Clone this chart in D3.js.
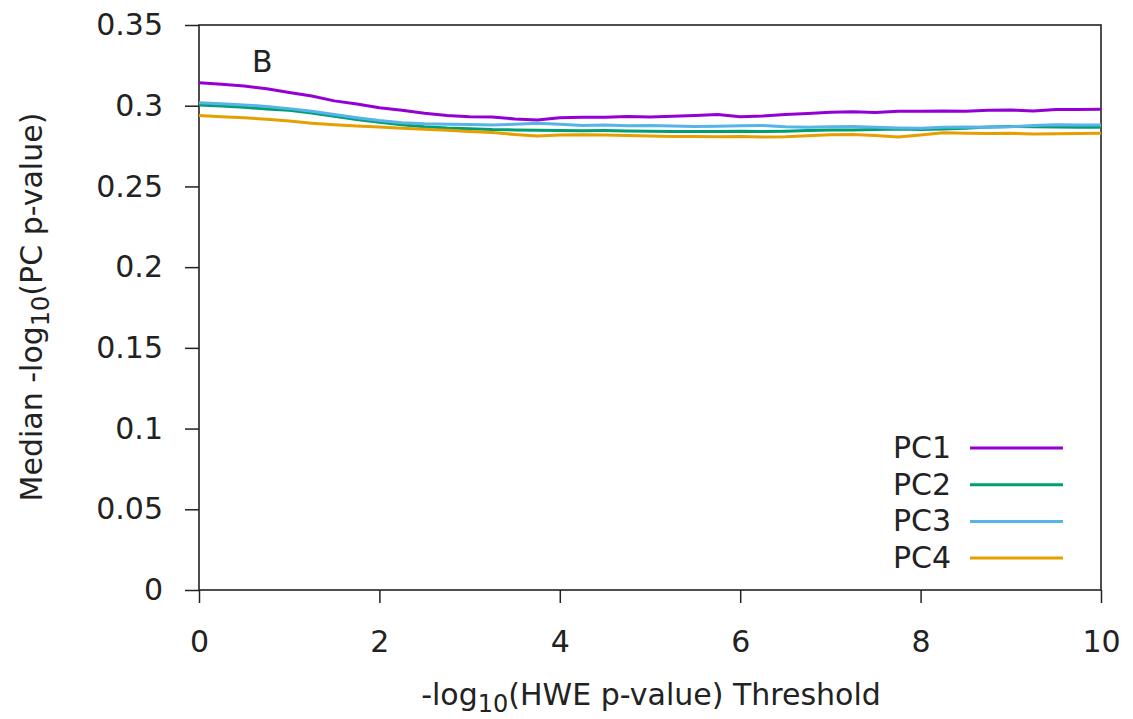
<!DOCTYPE html>
<html>
<head>
<meta charset="utf-8">
<script src="https://cdn.jsdelivr.net/npm/d3@7"></script>
<style>
  body { margin: 0; background: #fff; }
  svg text { font-family: "DejaVu Sans", sans-serif; fill: #222; }
</style>
</head>
<body>
<div id="chart"></div>
<script>
// -log10(HWE p-value) thresholds
const thresholds = d3.range(0, 10.001, 0.25);

const pc1 = [0.3143, 0.3133, 0.3122, 0.3105, 0.3082, 0.3060, 0.3030, 0.3010, 0.2988, 0.2972,
             0.2953, 0.2940, 0.2932, 0.2930, 0.2918, 0.2912, 0.2925, 0.2929, 0.2928, 0.2933,
             0.2930, 0.2935, 0.2940, 0.2946, 0.2932, 0.2936, 0.2946, 0.2952, 0.2960, 0.2962,
             0.2958, 0.2965, 0.2966, 0.2968, 0.2966, 0.2972, 0.2974, 0.2968, 0.2976, 0.2976, 0.2978];
const pc2 = [0.3005, 0.2998, 0.2990, 0.2980, 0.2972, 0.2955, 0.2935, 0.2915, 0.2898, 0.2882,
             0.2870, 0.2862, 0.2858, 0.2852, 0.2850, 0.2848, 0.2846, 0.2845, 0.2846, 0.2844,
             0.2842, 0.2840, 0.2841, 0.2840, 0.2842, 0.2840, 0.2842, 0.2846, 0.2850, 0.2849,
             0.2852, 0.2856, 0.2852, 0.2855, 0.2860, 0.2868, 0.2872, 0.2870, 0.2868, 0.2866, 0.2867];
const pc3 = [0.3019, 0.3012, 0.3005, 0.2995, 0.2982, 0.2965, 0.2945, 0.2925, 0.2908, 0.2895,
             0.2888, 0.2885, 0.2883, 0.2880, 0.2885, 0.2891, 0.2885, 0.2878, 0.2880, 0.2876,
             0.2878, 0.2874, 0.2872, 0.2873, 0.2876, 0.2878, 0.2870, 0.2866, 0.2869, 0.2872,
             0.2866, 0.2862, 0.2860, 0.2866, 0.2868, 0.2866, 0.2870, 0.2878, 0.2882, 0.2880, 0.2881];
const pc4 = [0.2939, 0.2932, 0.2925, 0.2916, 0.2905, 0.2892, 0.2882, 0.2875, 0.2868, 0.2860,
             0.2854, 0.2848, 0.2840, 0.2834, 0.2822, 0.2812, 0.2818, 0.2820, 0.2818, 0.2816,
             0.2812, 0.2810, 0.2809, 0.2808, 0.2810, 0.2806, 0.2808, 0.2814, 0.2820, 0.2822,
             0.2815, 0.2806, 0.2818, 0.2832, 0.2830, 0.2828, 0.2829, 0.2825, 0.2826, 0.2828, 0.2829];

const seriesNames = ["PC1", "PC2", "PC3", "PC4"];
const seriesColors = ["#9400d3", "#009e73", "#56b4e9", "#e69f00"];
const seriesValues = [pc1, pc2, pc3, pc4];

const xTicks = [0, 2, 4, 6, 8, 10];
const yTicks = [0, 0.05, 0.1, 0.15, 0.2, 0.25, 0.3, 0.35];

const width = 1133, height = 719;
const margin = {top: 25, right: 32, bottom: 129, left: 199};
const plotW = width - margin.left - margin.right;
const plotH = height - margin.top - margin.bottom;
const fontSize = 30;

const svg = d3.select("#chart").append("svg")
    .attr("width", width)
    .attr("height", height);

const g = svg.append("g")
    .attr("transform", `translate(${margin.left},${margin.top})`);

const xScale = d3.scaleLinear().domain([0, 10]).range([0, plotW]);
const yScale = d3.scaleLinear().domain([0, 0.35]).range([plotH, 0]);

// axes (ticks outward, gnuplot style)
const xAxis = g.append("g")
    .attr("transform", `translate(0,${plotH})`)
    .call(d3.axisBottom(xScale).tickValues(xTicks).tickSize(13).tickPadding(28).tickFormat(d3.format("d")));
const yAxis = g.append("g")
    .call(d3.axisLeft(yScale).tickValues(yTicks).tickSize(14).tickPadding(22).tickFormat(d => d === 0 ? "0" : String(+d.toFixed(2))));

[xAxis, yAxis].forEach(a => {
    a.select(".domain").remove();
    a.selectAll("line").attr("stroke", "#222").attr("stroke-width", 1.5);
    a.selectAll("text").style("font-size", fontSize + "px").style("font-family", "DejaVu Sans, sans-serif").attr("fill", "#222");
});

// frame
g.append("rect")
    .attr("x", 0).attr("y", 0)
    .attr("width", plotW).attr("height", plotH)
    .attr("fill", "none")
    .attr("stroke", "#222")
    .attr("stroke-width", 1.6);

// lines
const line = d3.line()
    .x((d, i) => xScale(thresholds[i]))
    .y(d => yScale(d));

seriesValues.forEach((vals, k) => {
    g.append("path")
        .datum(vals)
        .attr("fill", "none")
        .attr("stroke", seriesColors[k])
        .attr("stroke-width", 3)
        .attr("stroke-linejoin", "round")
        .attr("d", line);
});

// panel label
g.append("text")
    .attr("x", 53)
    .attr("y", 47)
    .style("font-size", fontSize + "px")
    .text("B");

// legend
const legend = g.append("g").attr("transform", `translate(${951 - margin.left},${448 - margin.top})`);
seriesNames.forEach((name, k) => {
    const row = legend.append("g").attr("transform", `translate(0,${k * 36.7})`);
    row.append("text")
        .attr("x", 0)
        .attr("y", 10)
        .attr("text-anchor", "end")
        .style("font-size", fontSize + "px")
        .text(name);
    row.append("line")
        .attr("x1", 19).attr("x2", 112)
        .attr("y1", 0).attr("y2", 0)
        .attr("stroke", seriesColors[k])
        .attr("stroke-width", 3);
});

// axis labels
const xLabel = svg.append("text")
    .attr("x", 651)
    .attr("y", 705)
    .attr("text-anchor", "middle")
    .style("font-size", fontSize + "px");
xLabel.append("tspan").text("-log");
xLabel.append("tspan").attr("dy", 7).style("font-size", "24px").text("10");
xLabel.append("tspan").attr("dy", -7).text("(HWE p-value) Threshold");

const yLabel = svg.append("text")
    .attr("transform", `translate(42,307) rotate(-90)`)
    .attr("text-anchor", "middle")
    .style("font-size", fontSize + "px");
yLabel.append("tspan").text("Median -log");
yLabel.append("tspan").attr("dy", 7).style("font-size", "24px").text("10");
yLabel.append("tspan").attr("dy", -7).text("(PC p-value)");
</script>
</body>
</html>
